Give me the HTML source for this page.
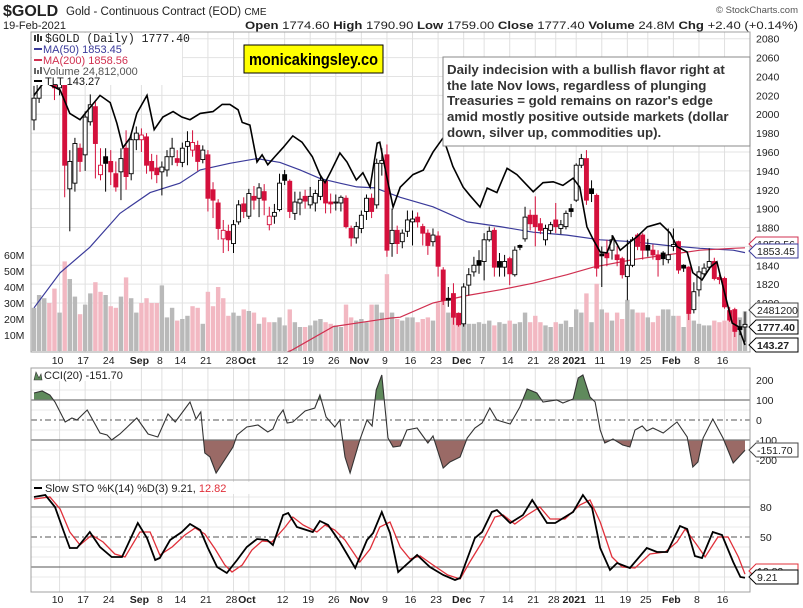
<!DOCTYPE html>
<html><head><meta charset="utf-8"><title>$GOLD chart</title>
<style>
html,body{margin:0;padding:0;background:#fff;}
svg{display:block;font-family:"Liberation Sans",sans-serif;}
</style></head>
<body>
<svg id="chart" xmlns="http://www.w3.org/2000/svg" width="803" height="608" viewBox="0 0 803 608">
  <rect x="0" y="0" width="803" height="608" fill="#fff"/>
  <g>
    <text x="3" y="16" font-size="16" font-weight="bold" fill="#222">$GOLD</text>
    <text x="66" y="15" font-size="11.5" fill="#222">Gold - Continuous Contract (EOD) <tspan font-size="10">CME</tspan></text>
    <text x="3" y="29" font-size="11" fill="#222">19-Feb-2021</text>
    <text x="798" y="13" font-size="9.5" fill="#555" text-anchor="end">© StockCharts.com</text>
    <text x="798" y="29" font-size="11" fill="#222" text-anchor="end" textLength="553" lengthAdjust="spacingAndGlyphs"><tspan font-weight="bold">Open</tspan> 1774.60 <tspan font-weight="bold">High</tspan> 1790.90 <tspan font-weight="bold">Low</tspan> 1759.00 <tspan font-weight="bold">Close</tspan> 1777.40 <tspan font-weight="bold">Volume</tspan> 24.8M <tspan font-weight="bold">Chg</tspan> +2.40 (+0.14%)</text>
  </g>
  <g id="grid"></g>
  <g id="vol"></g>
  <g id="ma"></g>
  <g id="candles"></g>
  <g id="tlt"></g>
  <g id="cci"></g>
  <g id="sto"></g>
  <g id="frames"></g>
  <g id="labels"></g>
  <g id="overlay"></g>
</svg>
<script>
// ---------- DATA ----------
const opens = [1994,2017,2040,2068,2066,2028,2040,1921,1927,1964,1957,1992,2008,1936,1955,1950,1937,1939,1964,1937,1973,1973,1976,1950,1943,1939,1941,1955,1953,1949,1966,1962,1967,1952,1957,1920,
1906,1868,1876,1863,1886,1905,1892,1913,1911,1918,1883,1892,1899,1936,1929,1895,1906,1913,1904,1906,1913,1929,1907,1906,1906,1911,1879,1869,1879,1897,1911,1904,1948,1957,
1863,1877,1865,1876,1886,1891,1881,1874,1865,1871,1835,1805,1810,1789,1778,1819,1833,1845,1844,1867,1877,1844,1838,1847,1830,1861,1868,1893,1893,1884,1867,1877,1888,1879,1881,
1900,1909,1946,1953,1921,1914,1852,1853,1856,1851,1847,1828,1840,1872,1872,1861,1856,1851,1853,1846,1860,1865,1840,1838,1793,1814,1831,1838,1844,1827,1826,1792,1793,1775,1774.6];
const highs = [2030,2045,2072,2078,2070,2052,2050,1962,1975,1969,2003,2021,2013,1964,1964,1962,1950,1964,1983,1979,1987,1985,1980,1958,1957,1950,1962,1975,1962,1970,1982,1983,1972,1967,1962,1928,
1910,1888,1883,1888,1909,1912,1921,1924,1927,1926,1902,1905,1937,1941,1931,1918,1918,1920,1923,1920,1934,1930,1916,1915,1914,1914,1882,1886,1898,1915,1916,1953,1964,1968,
1900,1882,1878,1898,1898,1896,1884,1878,1879,1876,1838,1817,1821,1790,1821,1837,1849,1856,1874,1881,1880,1853,1851,1849,1860,1862,1902,1899,1913,1890,1883,1886,1906,1888,1898,
1905,1948,1958,1962,1930,1916,1860,1867,1872,1860,1849,1867,1870,1874,1874,1868,1862,1856,1855,1879,1879,1866,1841,1839,1822,1839,1842,1858,1848,1830,1828,1796,1795,1782,1790.9];
const lows = [1983,2012,2035,2045,2015,2020,1912,1876,1918,1939,1940,1988,1932,1930,1918,1925,1918,1909,1920,1930,1962,1960,1937,1931,1927,1914,1934,1946,1945,1944,1946,1955,1940,1948,1897,1890,
1867,1853,1855,1853,1883,1890,1889,1899,1891,1893,1877,1884,1897,1925,1890,1888,1893,1900,1900,1897,1909,1895,1895,1898,1897,1879,1860,1863,1874,1888,1890,1900,1935,1849,
1849,1852,1858,1870,1861,1880,1861,1851,1860,1828,1798,1796,1777,1775,1775,1808,1828,1831,1824,1865,1828,1828,1828,1819,1828,1856,1865,1877,1860,1873,1861,1873,1874,1873,1878,
1891,1907,1943,1904,1907,1828,1817,1839,1846,1839,1826,1803,1838,1856,1846,1849,1846,1828,1840,1842,1855,1831,1833,1782,1789,1807,1828,1835,1824,1820,1794,1780,1764,1766,1759];
const closes = [2017,2040,2068,2066,2028,2040,1946,1950,1969,1950,1997,2010,1969,1946,1948,1939,1923,1953,1934,1973,1980,1978,1946,1940,1936,1944,1955,1964,1949,1964,1971,1970,1950,1962,1911,1909,
1879,1877,1867,1883,1904,1897,1916,1909,1922,1909,1892,1896,1927,1930,1897,1907,1910,1908,1913,1916,1930,1906,1905,1907,1912,1881,1869,1881,1893,1911,1897,1948,1951,1856,
1877,1863,1874,1888,1889,1886,1874,1861,1872,1839,1803,1803,1785,1777,1817,1830,1840,1840,1867,1876,1838,1838,1844,1831,1856,1859,1891,1884,1881,1877,1879,1883,1881,1883,1895,
1897,1946,1953,1909,1916,1837,1850,1848,1867,1846,1830,1840,1867,1860,1856,1856,1851,1846,1847,1851,1862,1835,1837,1789,1812,1833,1837,1844,1826,1825,1796,1782,1770,1772,1777.4];
const volumes = [27,35,33,30,39,24,56,45,34,23,29,36,43,37,35,28,27,34,46,33,24,30,33,30,30,41,21,27,19,20,22,28,27,17,37,28,40,33,22,24,22,26,25,24,17,21,18,18,21,16,26,18,15,15,16,19,20,18,17,16,15,29,21,19,20,18,29,29,24,48,
24,20,19,21,21,18,20,21,19,30,32,24,21,24,18,17,17,18,17,19,16,18,17,19,17,18,24,18,22,18,16,15,18,17,19,
15,26,24,36,18,42,26,24,19,24,20,32,26,24,24,21,18,22,26,26,22,22,15,26,19,17,16,16,19,18,19,21,24,21,24.8];
const ma50Idx = [0,5.1,10.9,16.8,22.7,28.5,32.5,38.3,43.6,48.1,52,55.9,59.8,63.1,66.7,71.6,78,84.7,91.1,97.6,104.2,110.7,117.1,123.8,130.2,136.7,139];
const ma50Val = [1795,1832,1859,1895,1917,1927,1941,1948,1953,1949,1941,1932,1927,1923,1922,1912,1902,1886,1881,1875,1872,1867,1865,1861,1858,1856,1853.45];
const ma200Idx = [48.1,50.4,58.5,69.6,71.6,78,84.7,91.1,97.6,104.2,109.3,117.1,123.8,130.2,136.7,139];
const ma200Val = [1745,1750,1775,1784,1785,1800,1808,1814,1821,1830,1838,1846,1851,1856,1858,1858.56];
const tltIdx = [0,2,5.1,7,9,10.6,12.9,14.9,16.2,17.4,18.8,20.1,22.1,23.5,25.2,27.2,28.9,30.5,32.5,35,36.8,38.3,39.9,40.7,42.2,43.6,44.6,45.7,47.1,48.7,50.6,52.4,54.4,55.9,56.9,57.9,59.8,61.2,63,64.3,65.7,67.1,67.6,69,70.2,71.6,74.1,76.1,78,80,81.9,83.9,85.2,87.2,88.6,90.5,92.5,94.4,97.6,99.5,101.5,103.4,105.4,106.7,108.1,109.3,110.7,112,113.2,114.6,116.5,117.9,119.9,122.4,124.4,125.7,127.7,128.8,130.6,132.2,133.5,135,136.5,137.7,139];
const tltVal = [171.0,172.5,171.6,169.0,168.3,169.4,171.0,170.2,167.9,165.2,166.3,169.0,171.0,167.2,168.6,169.2,168.6,168.3,169.0,169.2,170.0,170.0,169.4,168.0,167.7,163.6,164.4,163.3,164.2,165.2,166.5,165.8,164.2,162.2,161.3,162.4,164.6,163.6,161.6,162.4,160.8,165.7,165.8,161.9,158.6,160.8,162.2,162.7,164.7,166.3,163.1,160.8,159.9,158.6,160.7,160.2,162.9,162.2,160.3,161.3,161.4,161.0,161.8,160.8,156.4,155.0,153.6,153.5,155.3,153.8,154.7,155.3,156.4,156.8,155.7,154.2,153.6,151.3,150.5,151.9,152.5,149.1,145.7,145.3,143.27];
const cciIdx = [0,1.6,3.1,4.1,6.1,7.4,8.4,10.4,12.9,14.3,15.2,16.8,20.1,22.3,24.2,26.2,27.6,30.5,31.7,32.6,33.4,34.4,35.6,38.9,39.7,41.6,43.8,45.7,46.7,47.7,48.7,49.5,50.6,53,54.9,55.9,57.1,58.8,59.8,60.8,61.8,63.7,65.1,66.1,66.9,68,69.2,70.2,71.6,72.9,74.9,77,78,80,81.3,83.3,84.7,86.2,87.6,89.1,90.5,93.1,95,96.4,98.3,99.5,102.2,103.4,105.4,106.4,107.3,108.7,109.7,110.7,111.6,113.2,115.1,116.5,117.5,118.9,119.8,121,123,125.7,127.7,128.8,129.8,130.8,132.7,134.7,136.7,139];
const cciVal = [135,145,125,90,-10,10,0,50,-65,-75,-100,-70,10,-70,-85,30,-10,90,5,40,-165,-185,-265,-135,-75,-35,-25,-60,-45,15,50,-15,-10,45,60,125,15,-35,0,-185,-265,-100,0,-30,150,225,-90,-135,-130,-50,-40,-115,-80,-240,-210,-185,-90,-40,-15,60,0,-20,65,155,135,90,100,85,105,210,225,115,90,-50,-115,-95,-125,-135,-50,-30,-55,-40,-65,-10,-85,-235,-210,-90,5,-90,-215,-151.7];
const stoKIdx = [0,2.2,4.1,5.7,7,8.4,10.9,12.9,15.2,17.2,20.3,22.1,23.7,24.6,26.6,28.9,30.5,32.5,34,35.8,37.7,39.7,41.6,43.6,45.6,46.7,48.7,49.7,51.4,54.5,55.9,57.5,59.8,62.8,65.1,66.3,68,69.6,71.2,74.9,77.4,80,82.3,83.3,86.2,87.6,89.5,90.5,93.1,95.6,97.4,100.3,101.9,105.4,107.3,109.1,110.7,112.6,114,116.5,119.8,121.8,123.8,126.3,127.7,129.2,130.6,132.7,134.5,136.7,138.1,139];
const stoKVal = [90,92,80,57,39,39,55,40,30,30,64,49,27,29,47,55,63,57,39,20,14,27,40,48,47,42,72,74,60,55,66,62,45,19,47,54,75,54,15,32,20,12,7,9,49,55,75,77,64,72,87,64,64,75,92,79,39,17,24,19,39,35,35,61,58,31,29,55,52,25,10,9.21];
const stoDIdx = [0,3.1,5.1,7,9,11.3,13.5,15.8,17.8,20.7,22.7,24.6,27,29.5,31.5,33.4,35.4,37.3,38.7,40.7,42.6,44.6,46.5,49.1,50.6,52.6,55.3,56.9,58.8,60.8,63.7,65.7,67.6,69.6,71.6,73.5,75.5,78,80.9,83.3,85.2,87.6,90.1,91.7,94,96.4,98.9,100.9,103.8,106.7,108.7,110.7,113,115,117.5,120.4,123.4,125.7,127.3,129.6,131.2,133.7,135.7,137.7,139];
const stoDVal = [88,90,78,55,42,52,45,33,30,55,55,32,40,52,59,53,38,22,15,22,37,46,45,60,70,62,55,62,57,47,25,38,60,65,40,28,31,22,12,8,25,45,70,72,63,72,80,68,68,82,87,65,30,20,19,33,35,45,58,42,30,50,50,30,12.82];
const priceTicks = [1800,1820,1840,1880,1900,1920,1940,1960,1980,2000,2020,2040,2060,2080];
const volTicks = [10,20,30,40,50,60];
const tickIdx = [5,10,15,21,25,29,34,39,42,49,54,59,64,69,74,79,84,88,93,98,102,106,111,116,120,125,130,135];
const tickLabels = ["10","17","24","Sep","8","14","21","28","Oct","12","19","26","Nov","9","16","23","Dec","7","14","21","28","2021","11","19","25","Feb","8","16"];
const cciTicks = [200,100,0,-100,-200];
const stoTicks = [80,50,20];

// ---------- SCALES ----------
const N = closes.length;
const L = 31, R = 750;
const X = i => 34 + i * (711 / (N - 1));
const YP = p => 152 - (p - 1960) * 0.944;
const YV = v => 351 - v * 1.6;
const YT = v => 345 - (v - 143.27) * 9;
const YC = v => 420 - v * 0.2;
const YS = v => 587 - v;
const NS = "http://www.w3.org/2000/svg";
function mk(tag, attrs, parent) {
  const e = document.createElementNS(NS, tag);
  for (const k in attrs) e.setAttribute(k, attrs[k]);
  parent.appendChild(e);
  return e;
}
const RED = "#d4103c";

// ---------- GRID ----------
const grid = document.getElementById("grid");
mk("rect", {x: L, y: 32, width: R - L, height: 320, fill: "#fff"}, grid);
priceTicks.forEach(p => {
  const ln = mk("line", {x1: L, x2: R, y1: YP(p), y2: YP(p), stroke: "#e3e3e3", "stroke-width": 1}, grid);
  
  
});
[1860].forEach(p => {
  const ln = mk("line", {x1: L, x2: R, y1: YP(p), y2: YP(p), stroke: "#e3e3e3", "stroke-width": 1}, grid);
  
  
});
// CCI & STO minor grid
[150, 50, -50, -150].forEach(v => {
  const ln = mk("line", {x1: L, x2: R, y1: YC(v), y2: YC(v), stroke: "#e8e8e8"}, grid);
  
  
});
[90, 70, 60, 40, 30, 10].forEach(v => {
  const ln = mk("line", {x1: L, x2: R, y1: YS(v), y2: YS(v), stroke: "#e8e8e8"}, grid);
  
  
});
tickIdx.forEach(i => {
  [[32, 352], [368, 480], [480, 592]].forEach(([a, b]) => {
    const ln = mk("line", {x1: X(i), x2: X(i), y1: a, y2: b, stroke: "#e0e0e0"}, grid);
    
    
  });
});

// ---------- VOLUME ----------
const volG = document.getElementById("vol");
volumes.forEach((v, i) => {
  const down = i > 0 && closes[i] < closes[i - 1];
  const r = mk("rect", {x: X(i) - 2.2, y: YV(v), width: 4.4, height: 351 - YV(v), fill: down ? "#f2b8c2" : "#b9b9b9"}, volG);
  
  
});

// ---------- MOVING AVERAGES ----------
const maG = document.getElementById("ma");
const clip = mk("clipPath", {id: "mainclip"}, maG);
mk("rect", {x: L, y: 32, width: R - L, height: 320}, clip);
function pts(idx, val, fy) { return idx.map((i, k) => X(i).toFixed(1) + "," + fy(val[k]).toFixed(1)).join(" "); }
const ma50 = mk("polyline", {points: pts(ma50Idx, ma50Val, YP), fill: "none", stroke: "#3a3a9a", "stroke-width": 1.2, "clip-path": "url(#mainclip)"}, maG);


const ma200 = mk("polyline", {points: pts(ma200Idx, ma200Val, YP), fill: "none", stroke: "#d03050", "stroke-width": 1.2, "clip-path": "url(#mainclip)"}, maG);



// ---------- CANDLES ----------
const cG = document.getElementById("candles");
cG.setAttribute("clip-path", "url(#mainclip)");
closes.forEach((c, i) => {
  const o = opens[i], h = highs[i], l = lows[i];
  const col = (i > 0 && c < closes[i - 1]) ? RED : "#000";
  const g = mk("g", {}, cG);
  
  
  mk("line", {x1: X(i), x2: X(i), y1: YP(h), y2: YP(l), stroke: col, "stroke-width": 1}, g);
  const top = YP(Math.max(o, c)), bot = YP(Math.min(o, c));
  const hollow = c >= o;
  mk("rect", {x: X(i) - 2, y: top, width: 4, height: Math.max(1, bot - top), fill: hollow ? "#fff" : col, stroke: col, "stroke-width": 0.9}, g);
});

// ---------- TLT ----------
const tG = document.getElementById("tlt");
const tl = mk("polyline", {points: pts(tltIdx, tltVal, YT), fill: "none", stroke: "#000", "stroke-width": 1.6, "clip-path": "url(#mainclip)"}, tG);



// ---------- CCI ----------
const ccG = document.getElementById("cci");
const c1 = mk("clipPath", {id: "cciUp"}, ccG); mk("rect", {x: L, y: 368, width: R - L, height: YC(100) - 368}, c1);
const c2 = mk("clipPath", {id: "cciDn"}, ccG); mk("rect", {x: L, y: YC(-100), width: R - L, height: 480 - YC(-100)}, c2);
const cciPts = pts(cciIdx, cciVal, YC);
const x0 = X(cciIdx[0]).toFixed(1), x1 = X(cciIdx[cciIdx.length - 1]).toFixed(1);
const upA = mk("polygon", {points: cciPts + " " + x1 + "," + YC(100) + " " + x0 + "," + YC(100), fill: "#5f8a5c", "clip-path": "url(#cciUp)"}, ccG);


const dnA = mk("polygon", {points: cciPts + " " + x1 + "," + YC(-100) + " " + x0 + "," + YC(-100), fill: "#9a6a66", "clip-path": "url(#cciDn)"}, ccG);


[[100, ""], [-100, ""], [0, "6,3,2,3"]].forEach(([v, d]) => {
  const ln = mk("line", {x1: L, x2: R, y1: YC(v), y2: YC(v), stroke: "#777", "stroke-width": 1.2, "stroke-dasharray": d}, ccG);
  
  
});
const cciLine = mk("polyline", {points: cciPts, fill: "none", stroke: "#333", "stroke-width": 1.1}, ccG);



// ---------- STO ----------
const sG = document.getElementById("sto");
[[80, ""], [20, ""], [50, "6,3,2,3"]].forEach(([v, d]) => {
  const ln = mk("line", {x1: L, x2: R, y1: YS(v), y2: YS(v), stroke: "#777", "stroke-width": 1.2, "stroke-dasharray": d}, sG);
  
  
});
const dL = mk("polyline", {points: pts(stoDIdx, stoDVal, YS), fill: "none", stroke: "#e0303a", "stroke-width": 1.3}, sG);


const kL = mk("polyline", {points: pts(stoKIdx, stoKVal, YS), fill: "none", stroke: "#000", "stroke-width": 1.8}, sG);



// ---------- FRAMES ----------
const fG = document.getElementById("frames");
[[32, 352], [368, 480], [480, 592]].forEach(([a, b]) => {
  const r = mk("rect", {x: L, y: a, width: R - L, height: b - a, fill: "none", stroke: "#a0a0a0", "stroke-width": 1}, fG);
  
  
});

// ---------- LABELS ----------
const lb = document.getElementById("labels");
const bold = {"Sep":1,"Oct":1,"Nov":1,"Dec":1,"2021":1,"Feb":1};
tickLabels.forEach((t, k) => {
  [364, 603].forEach(y => {
    const e = mk("text", {x: X(tickIdx[k]) - 2, y: y, "font-size": 10.5, "text-anchor": "middle", fill: "#222", "font-weight": bold[t] ? "bold" : "normal"}, lb);
    e.textContent = t;
    
    
  });
});
priceTicks.forEach(p => {
  const e = mk("text", {x: 756, y: YP(p) + 4, "font-size": 10.5, fill: "#222"}, lb);
  e.textContent = p;
  
  
});
volTicks.forEach(v => {
  const e = mk("text", {x: 4, y: YV(v) + 4, "font-size": 10.5, fill: "#222"}, lb);
  e.textContent = v + "M";
  
  
});
cciTicks.forEach(v => {
  const e = mk("text", {x: 756, y: YC(v) + 4, "font-size": 10.5, fill: "#222"}, lb);
  e.textContent = v;
  
  
});
stoTicks.forEach(v => {
  const e = mk("text", {x: 760, y: YS(v) + 4, "font-size": 10.5, fill: "#222"}, lb);
  e.textContent = v;
  
  
});
function tag(y, txt, stroke, bw, name, fill) {
  const g = mk("g", {}, lb);
  
  
  mk("path", {d: `M749,${y} L756,${y-7} L798,${y-7} L798,${y+7} L756,${y+7} Z`, fill: "#fff", stroke: stroke, "stroke-width": 1}, g);
  const t = mk("text", {x: 757, y: y + 4, "font-size": 10.5, fill: fill || "#222", "font-weight": bw ? "bold" : "normal"}, g);
  t.textContent = txt;
}
tag(244, "1858.56", "#d03050", false, "ma200-value-tag");
tag(251, "1853.45", "#3a3a9a", false, "ma50-value-tag");
tag(310, "2481200", "#444", false, "volume-value-tag");
tag(327, "1777.40", "#000", true, "price-value-tag");
tag(345, "143.27", "#000", true, "tlt-value-tag");
tag(450, "-151.70", "#444", false, "cci-value-tag");
tag(571, "12.82", "#e0303a", false, "sto-d-value-tag");
tag(577, "9.21", "#000", false, "sto-k-value-tag");
</script>
<svg style="display:none"></svg>
<script>
// overlays: legends and annotation boxes
(function(){
const NS = "http://www.w3.org/2000/svg";
const ov = document.getElementById("overlay");
ov.innerHTML = `
<g>
  <rect x="32" y="33" width="150" height="52" fill="#fff"/>
  <rect x="34" y="35" width="2" height="6" fill="#333"/><rect x="37" y="34" width="2" height="8" fill="#333"/><rect x="40" y="36" width="2" height="5" fill="#333"/>
  <text x="45" y="42" font-size="11.5" font-family="Liberation Mono, monospace" fill="#222">$GOLD (Daily) 1777.40</text>
  <line x1="34" x2="42" y1="49" y2="49" stroke="#3a3a9a" stroke-width="2"/>
  <text x="43" y="53" font-size="11" fill="#3a3a9a">MA(50) 1853.45</text>
  <line x1="34" x2="42" y1="60" y2="60" stroke="#d03050" stroke-width="2"/>
  <text x="43" y="64" font-size="11" fill="#d03050">MA(200) 1858.56</text>
  <rect x="34" y="68" width="2" height="6" fill="#666"/><rect x="37" y="70" width="2" height="4" fill="#666"/><rect x="40" y="67" width="2" height="7" fill="#666"/>
  <text x="43" y="75" font-size="11" fill="#555">Volume 24,812,000</text>
  <line x1="34" x2="42" y1="81" y2="81" stroke="#000" stroke-width="2"/>
  <text x="45" y="85" font-size="11" fill="#111">TLT 143.27</text>
</g>
<g>
  <rect x="244" y="45" width="139" height="28" fill="#ffff00" stroke="#000" stroke-width="1"/>
  <text x="249" y="65" font-size="17" font-weight="bold" fill="#000" textLength="129" lengthAdjust="spacingAndGlyphs">monicakingsley.co</text>
</g>
<g>
  <rect x="443" y="57" width="307" height="89" fill="#fff" stroke="#8a8a8a" stroke-width="1"/>
  <text font-size="13.3" font-weight="bold" fill="#333">
    <tspan x="447" y="74">Daily indecision with a bullish flavor right at</tspan>
    <tspan x="447" y="90">the late Nov lows, regardless of plunging</tspan>
    <tspan x="447" y="105">Treasuries = gold remains on razor's edge</tspan>
    <tspan x="447" y="121">amid mostly positive outside markets (dollar</tspan>
    <tspan x="447" y="137">down, silver up, commodities up).</tspan>
  </text>
</g>
<g>
  <rect x="32" y="369" width="100" height="12" fill="#fff" opacity="0.9"/>
  <path d="M34,380 L36,372 L39,378 L41,374 L42,380 Z" fill="#5f8a5c" stroke="#333" stroke-width="0.6"/>
  <text x="44" y="379" font-size="11" fill="#222">CCI(20) -151.70</text>
</g>
<g>
  <rect x="32" y="482" width="222" height="12" fill="#fff" opacity="0.9"/>
  <line x1="34" x2="42" y1="488" y2="488" stroke="#000" stroke-width="2"/>
  <text x="45" y="492" font-size="11" fill="#222">Slow STO %K(14) %D(3) 9.21, <tspan fill="#e0303a">12.82</tspan></text>
</g>`;
})();
</script>
</body></html>
